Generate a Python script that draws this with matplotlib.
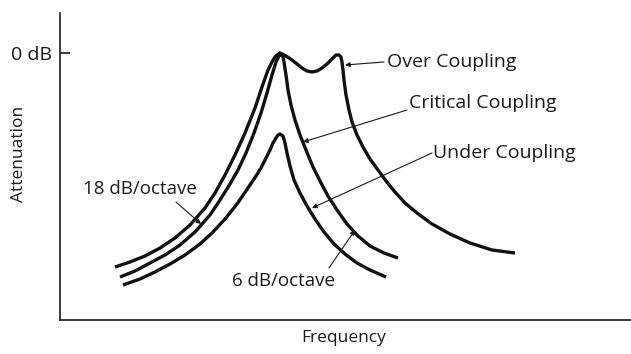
import matplotlib
matplotlib.use("Agg")
import matplotlib.pyplot as plt

# coupling response curves, frequency (arbitrary units) vs attenuation (0 = 0 dB, grows downward)
over_f = [55, 70, 85, 100, 115, 130, 145, 155, 165, 175,
          185, 195, 202, 208, 212, 215, 217, 220, 226, 232,
          237, 242, 247, 252, 257, 262, 267, 272, 276, 279,
          281, 282, 283, 284, 286, 289, 292, 297, 303, 310,
          318, 326, 335, 345, 357, 372, 390, 410, 432, 455]
over_att = [214, 209, 203, 195, 185, 172, 155, 140, 122, 102,
            80, 55, 34, 17, 9, 4, 2, 0, 3, 7,
            11, 15, 18, 19, 18, 15, 11, 6, 2, 2,
            4, 9, 17, 27, 42, 57, 69, 82, 94, 106,
            117, 128, 139, 150, 160, 171, 181, 190, 197, 200]

critical_f = [60, 75, 90, 105, 120, 135, 150, 160, 170, 178, 186, 194, 201, 207, 212, 216, 219, 221,
              223, 224, 226, 228, 231, 235, 240, 246, 253, 260, 268, 277, 287, 298, 310, 324, 338]
critical_att = [224, 218, 210, 202, 192, 179, 162, 147, 131, 117, 100, 80, 60, 40, 22, 9, 3, 1,
                4, 9, 22, 37, 52, 67, 82, 97, 114, 128, 143, 157, 171, 183, 193, 200, 205]

under_f = [63, 80, 95, 110, 125, 140, 152, 165, 177, 190, 196, 201, 206, 210, 213, 216, 218, 220,
           223, 225, 227, 230, 234, 240, 247, 255, 264, 274, 285, 297, 310, 326]
under_att = [232, 226, 219, 211, 202, 191, 180, 166, 151, 132, 123, 115, 105, 97, 90, 85, 82, 81,
             83, 90, 100, 113, 127, 140, 153, 166, 179, 191, 201, 210, 217, 224]

# callout labels: text, text anchor, arrow tail, arrow head
labels = ["Over Coupling", "Critical Coupling", "Under Coupling", "18 dB/octave", "6 dB/octave"]
text_pos = [(327, 9), (349, 50), (373, 100), (80, 136), (223, 228)]
text_ha = ["left", "left", "left", "center", "center"]
arrow_tail = [(324, 9), (347, 57), (372, 100), (116, 149), (269, 215)]
arrow_head = [(285, 12), (243, 89), (252, 155), (141, 171), (295, 177)]

plt.rcParams['font.family'] = ['Open Sans', 'DejaVu Sans']
ink = "#1a1a1a"

fig = plt.figure(figsize=(6.31, 3.54), dpi=100)
ax = fig.add_axes([60 / 631, 34 / 354, 571 / 631, 307 / 354])

for f, a in [(over_f, over_att), (critical_f, critical_att), (under_f, under_att)]:
    ax.plot(f, a, color="#111111", lw=2.4, solid_joinstyle="round", solid_capstyle="butt")

for txt, pos, ha, tail, head in zip(labels, text_pos, text_ha, arrow_tail, arrow_head):
    size = 14 if "Coupling" in txt else 13.5
    ax.text(pos[0], pos[1], txt, ha=ha, va="center", fontsize=size, color=ink)
    ax.annotate("", xy=head, xytext=tail,
                arrowprops=dict(arrowstyle="-|>", lw=0.8, color=ink,
                                mutation_scale=7, shrinkA=0, shrinkB=0))

ax.set_xlim(0, 571)
ax.set_ylim(267, -40)

for s in ["top", "right"]:
    ax.spines[s].set_visible(False)
for s in ["left", "bottom"]:
    ax.spines[s].set_linewidth(1.2)
    ax.spines[s].set_color(ink)

ax.set_xticks([])
ax.set_yticks([0])
ax.set_yticklabels(["0 dB"], fontsize=14, color=ink)
ax.tick_params(axis="y", direction="in", length=7, width=1.2, pad=5.5, color=ink)

ax.set_xlabel("Frequency", fontsize=12.5, color=ink)
ax.set_ylabel("Attenuation", fontsize=12.5, color=ink)
ax.xaxis.label.set_va("center")
ax.yaxis.label.set_va("center")
ax.xaxis.set_label_coords(0.496, -0.059)
ax.yaxis.set_label_coords(-0.072, 0.541)

fig.savefig("out.png", dpi=100)
